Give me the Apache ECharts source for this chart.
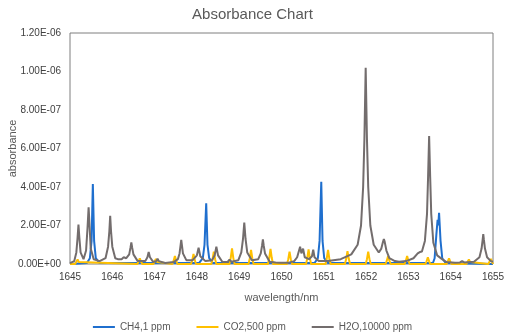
<!DOCTYPE html>
<html>
<head>
<meta charset="utf-8">
<script src="https://cdn.jsdelivr.net/npm/echarts@6/dist/echarts.min.js"></script>
<style>
html,body{margin:0;padding:0;background:#fff;}
#chart{width:505px;height:336px;}
</style>
</head>
<body>
<div id="chart"></div>
<script>
// values are in units of 1e-7 absorbance, x in nm
var UNIT = 1e-7;
var seriesNames = ['CH4,1 ppm', 'CO2,500 ppm', 'H2O,10000 ppm'];

var ch4 = [
	[1645.00,0],[1645.40,0.05],[1645.47,0.3],[1645.51,1.2],[1645.54,4.15],[1645.57,1.2],[1645.61,0.3],[1645.70,0.05],
	[1648.05,0.05],[1648.14,0.3],[1648.18,1.0],[1648.22,3.15],[1648.25,1.0],[1648.29,0.3],[1648.38,0.05],
	[1650.78,0.05],[1650.86,0.3],[1650.90,1.2],[1650.94,4.27],[1650.97,1.2],[1651.01,0.3],[1651.10,0.05],
	[1653.58,0.05],[1653.62,0.3],[1653.66,1.5],[1653.69,2.3],[1653.705,2.0],[1653.725,2.66],[1653.76,1.2],[1653.80,0.3],[1653.88,0.05],
	[1655.00,0]
];

var co2 = [
	[1645.00,0],[1645.12,0],[1645.15,0.1],[1645.18,0.24],[1645.21,0.1],[1645.24,0],
	[1646.59,0],[1646.62,0.12],[1646.65,0.30],[1646.68,0.12],[1646.71,0],
	[1646.97,0],[1647.00,0.1],[1647.03,0.26],[1647.06,0.1],[1647.09,0],
	[1647.42,0],[1647.45,0.17],[1647.48,0.42],[1647.51,0.17],[1647.54,0],
	[1647.86,0],[1647.89,0.2],[1647.92,0.52],[1647.95,0.2],[1647.98,0],
	[1648.34,0],[1648.37,0.25],[1648.40,0.64],[1648.43,0.25],[1648.46,0],
	[1648.77,0],[1648.80,0.32],[1648.83,0.81],[1648.86,0.32],[1648.89,0],
	[1649.22,0],[1649.25,0.29],[1649.28,0.73],[1649.31,0.29],[1649.34,0],
	[1649.68,0],[1649.71,0.31],[1649.74,0.78],[1649.77,0.31],[1649.80,0],
	[1650.13,0],[1650.16,0.25],[1650.19,0.64],[1650.22,0.25],[1650.25,0],
	[1650.58,0],[1650.61,0.3],[1650.64,0.76],[1650.67,0.3],[1650.70,0],
	[1651.04,0],[1651.07,0.29],[1651.10,0.73],[1651.13,0.29],[1651.16,0],
	[1651.50,0],[1651.53,0.27],[1651.56,0.67],[1651.59,0.27],[1651.62,0],
	[1651.99,0],[1652.02,0.25],[1652.05,0.64],[1652.08,0.25],[1652.11,0],
	[1652.46,0],[1652.49,0.17],[1652.52,0.42],[1652.55,0.17],[1652.58,0],
	[1652.91,0],[1652.94,0.17],[1652.97,0.42],[1653.00,0.17],[1653.03,0],
	[1653.40,0],[1653.43,0.14],[1653.46,0.35],[1653.49,0.14],[1653.52,0],
	[1653.90,0],[1653.93,0.12],[1653.96,0.30],[1653.99,0.12],[1654.02,0],
	[1654.37,0],[1654.40,0.1],[1654.43,0.24],[1654.46,0.1],[1654.49,0],
	[1654.89,0],[1654.92,0.1],[1654.95,0.26],[1654.98,0.1],[1655.00,0]
];

var h2o = [
	[1645.00,0.05],[1645.10,0.15],[1645.15,0.6],[1645.18,1.4],[1645.20,2.05],[1645.22,1.4],[1645.25,0.6],[1645.32,0.25],
	[1645.38,0.7],[1645.415,1.9],[1645.44,2.95],[1645.465,1.9],[1645.49,0.8],[1645.56,0.25],[1645.70,0.15],
	[1645.84,0.3],[1645.90,0.9],[1645.93,1.7],[1645.95,2.5],[1645.97,1.7],[1646.00,0.9],[1646.07,0.3],
	[1646.13,0.25],[1646.17,0.35],[1646.22,0.25],[1646.27,0.35],[1646.33,0.3],
	[1646.40,0.5],[1646.43,0.85],[1646.45,1.12],[1646.47,0.85],[1646.50,0.5],[1646.60,0.15],
	[1646.78,0.15],[1646.83,0.35],[1646.86,0.62],[1646.89,0.35],[1646.97,0.1],
	[1647.04,0.15],[1647.07,0.28],[1647.10,0.15],[1647.25,0.05],
	[1647.45,0.1],[1647.55,0.25],[1647.59,0.55],[1647.61,0.9],[1647.63,1.25],[1647.65,0.9],[1647.67,0.55],[1647.75,0.2],
	[1647.90,0.2],[1648.00,0.45],[1648.04,0.85],[1648.08,0.4],[1648.20,0.15],
	[1648.36,0.2],[1648.42,0.45],[1648.46,0.9],[1648.50,0.45],[1648.60,0.12],
	[1648.72,0.1],[1648.77,0.22],[1648.82,0.12],
	[1648.98,0.2],[1649.05,0.6],[1649.09,1.3],[1649.12,2.15],[1649.15,1.3],[1649.19,0.6],[1649.30,0.2],
	[1649.45,0.25],[1649.51,0.55],[1649.54,0.95],[1649.56,1.28],[1649.58,0.95],[1649.61,0.55],[1649.72,0.12],
	[1649.86,0.08],[1649.90,0.18],[1649.95,0.06],[1650.15,0.06],
	[1650.30,0.15],[1650.37,0.35],[1650.40,0.4],[1650.44,0.9],[1650.47,0.55],[1650.51,0.8],[1650.55,0.35],
	[1650.65,0.25],[1650.72,0.4],[1650.75,0.75],[1650.78,0.35],[1650.88,0.15],
	[1651.10,0.15],[1651.40,0.25],[1651.65,0.5],[1651.80,1.0],[1651.88,2.0],[1651.93,4.0],
	[1651.96,6.5],[1651.99,10.2],[1652.02,6.5],[1652.05,4.0],[1652.10,2.0],[1652.18,1.0],
	[1652.30,0.6],[1652.36,0.8],[1652.40,1.15],[1652.42,1.3],[1652.44,1.15],[1652.48,0.7],[1652.55,0.3],
	[1652.68,0.15],[1652.72,0.18],[1652.78,0.12],[1652.95,0.15],
	[1653.12,0.3],[1653.22,0.55],[1653.27,0.62],[1653.32,0.65],[1653.39,1.2],[1653.44,2.6],
	[1653.465,4.5],[1653.49,6.65],[1653.515,4.5],[1653.54,2.6],[1653.59,1.1],[1653.68,0.45],
	[1653.78,0.28],[1653.90,0.1],[1654.10,0.06],[1654.22,0.08],[1654.27,0.15],[1654.32,0.08],
	[1654.55,0.12],[1654.68,0.35],[1654.73,0.8],[1654.755,1.25],[1654.77,1.55],[1654.785,1.25],[1654.81,0.8],[1654.86,0.35],
	[1654.95,0.15],[1655.00,0.12]
];

var colors = ['#1f6fce', '#ffc000', '#736d6d'];
var textColor = '#595959';
var font = 'Liberation Sans';

function sci(v){
	if(v === 0) return '0.00E+00';
	var s = v.toExponential(2).toUpperCase();
	var p = s.split('E');
	var e = parseInt(p[1], 10);
	var sign = e < 0 ? '-' : '+';
	e = Math.abs(e);
	return p[0] + 'E' + sign + (e < 10 ? '0' + e : e);
}
function scale(arr){
	return arr.map(function(d){ return [d[0], d[1] * UNIT]; });
}

var chart = echarts.init(document.getElementById('chart'));
var option = {
	animation: false,
	color: colors,
	textStyle: {fontFamily: font},
	title: {
		text: 'Absorbance Chart',
		left: 'center',
		top: 2,
		textStyle: {fontFamily: font, fontSize: 15, fontWeight: 'normal', color: textColor}
	},
	legend: {
		bottom: -1,
		left: 'center',
		data: seriesNames,
		icon: 'rect',
		itemWidth: 22,
		itemHeight: 2,
		itemGap: 26,
		textStyle: {fontFamily: font, fontSize: 10, color: textColor}
	},
	grid: {
		left: 70,
		right: 12,
		top: 33,
		bottom: 72,
		containLabel: false,
		outerBoundsMode: 'none',
		show: true,
		borderColor: '#7f7f7f',
		borderWidth: 1
	},
	xAxis: {
		type: 'value',
		min: 1645,
		max: 1655,
		interval: 1,
		name: 'wavelength/nm',
		nameLocation: 'middle',
		nameGap: 28,
		nameMoveOverlap: false,
		nameTextStyle: {fontFamily: font, fontSize: 11, color: textColor},
		axisLine: {show: false},
		axisTick: {show: false},
		splitLine: {show: false},
		axisLabel: {fontFamily: font, fontSize: 10, color: '#404040', margin: 8, formatter: function(v){ return String(v); }}
	},
	yAxis: {
		type: 'value',
		min: 0,
		max: 1.2e-6,
		interval: 2e-7,
		name: 'absorbance',
		nameLocation: 'middle',
		nameGap: 52,
		nameMoveOverlap: false,
		nameTextStyle: {fontFamily: font, fontSize: 11, color: textColor},
		axisLine: {show: false},
		axisTick: {show: false},
		splitLine: {show: false},
		axisLabel: {fontFamily: font, fontSize: 10, color: '#404040', margin: 9, formatter: sci}
	},
	series: [
		{name: seriesNames[0], type: 'line', data: scale(ch4), showSymbol: false, lineStyle: {width: 2}},
		{name: seriesNames[1], type: 'line', data: scale(co2), showSymbol: false, lineStyle: {width: 2}},
		{name: seriesNames[2], type: 'line', data: scale(h2o), showSymbol: false, lineStyle: {width: 2}}
	]
};
chart.setOption(option);
</script>
</body>
</html>
